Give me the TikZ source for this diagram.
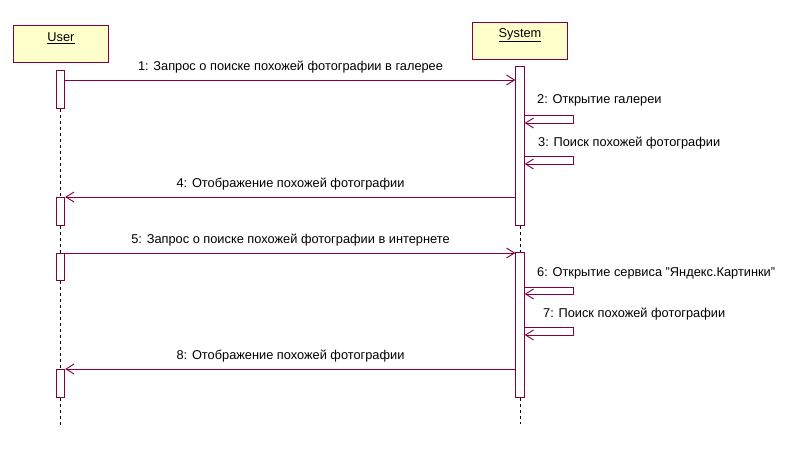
\documentclass[tikz,border=0pt]{standalone}
\usepackage{fontspec}
\setmainfont{Liberation Sans}
\usetikzlibrary{arrows.meta}
\definecolor{rose}{RGB}{128,0,64}
\definecolor{objfill}{RGB}{255,255,204}
\begin{document}
\begin{tikzpicture}[x=1pt,y=-1pt,
 obj/.style={draw=rose, fill=objfill, line width=0.9pt, minimum width=95pt, minimum height=37pt, anchor=north west, inner sep=0pt},
 act/.style={draw=rose, fill=white, line width=0.9pt, minimum width=8.5pt, anchor=north, inner sep=0pt},
 msg/.style={draw=rose, line width=0.9pt, -{Straight Barb[length=8pt,width=10pt]}},
 life/.style={dash pattern=on 3pt off 3pt, line width=0.9pt},
 lbl/.style={font=\fontsize{12.8}{15}\selectfont, inner sep=0pt}]
\useasboundingbox (0,0) rectangle (792,454);
% objects
\node[obj] (user) at (13,25) {};
\node[lbl] (userlbl) at (61,38) {\underline{User}};
\node[obj] (sys) at (472,22) {};
\node[lbl] (syslbl) at (520,35) {\underline{System}};
% lifeline ends
\coordinate (uend) at (60.5,427);
\coordinate (send) at (520,424);
% activations
\node[act, minimum height=38pt] (ua1) at (60.5,70) {};
\node[act, minimum height=28pt] (ua2) at (60.5,197) {};
\node[act, minimum height=27pt] (ua3) at (60.5,253) {};
\node[act, minimum height=28pt] (ua4) at (60.5,369) {};
\node[act, minimum height=159pt] (sa1) at (520,66) {};
\node[act, minimum height=145pt] (sa2) at (520,252) {};
% lifelines
\draw[life] (ua1.south) -- (ua2.north);
\draw[life] (ua2.south) -- (ua3.north);
\draw[life] (ua3.south) -- (ua4.north);
\draw[life] (ua4.south) -- (uend);
\draw[life] (sa1.south) -- (sa2.north);
\draw[life] (sa2.south) -- (send);
% messages
\draw[msg] (ua1.east |- 0,80) -- (sa1.west |- 0,80);
\node[lbl] (m1) at (290.5,67) {1: Запрос о поиске похожей фотографии в галерее};
\draw[msg] (sa1.east |- 0,115) -- (573,115) -- (573,123) -- (sa1.east |- 0,123);
\node[lbl, anchor=west] (m2) at (537,100) {2: Открытие галереи};
\draw[msg] (sa1.east |- 0,156) -- (573,156) -- (573,164) -- (sa1.east |- 0,164);
\node[lbl, anchor=west] (m3) at (538,143) {3: Поиск похожей фотографии};
\draw[msg] (sa1.west |- 0,197) -- (ua2.east |- 0,197);
\node[lbl] (m4) at (290.5,184) {4: Отображение похожей фотографии};
\draw[msg] (ua3.east |- 0,253) -- (sa2.west |- 0,253);
\node[lbl] (m5) at (290.5,240) {5: Запрос о поиске похожей фотографии в интернете};
\draw[msg] (sa2.east |- 0,287) -- (573,287) -- (573,294) -- (sa2.east |- 0,294);
\node[lbl, anchor=west] (m6) at (537,273) {6: Открытие сервиса "Яндекс.Картинки"};
\draw[msg] (sa2.east |- 0,327) -- (573,327) -- (573,335) -- (sa2.east |- 0,335);
\node[lbl, anchor=west] (m7) at (543,314) {7: Поиск похожей фотографии};
\draw[msg] (sa2.west |- 0,369) -- (ua4.east |- 0,369);
\node[lbl] (m8) at (290.5,356) {8: Отображение похожей фотографии};
\end{tikzpicture}
\end{document}
